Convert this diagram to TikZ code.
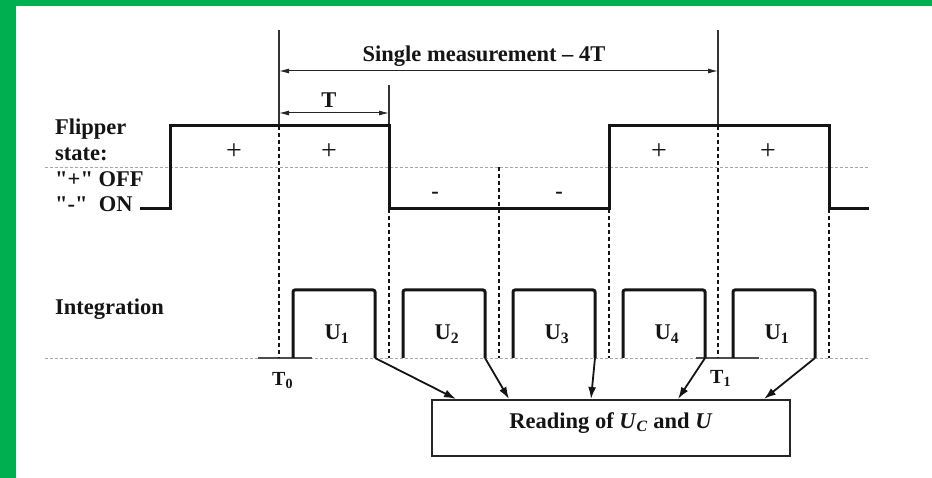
\documentclass[tikz,border=0pt]{standalone}
\usepackage{fontspec}
\setmainfont{Liberation Serif}
\newfontfamily\rawserif{Liberation Serif}
\usetikzlibrary{arrows.meta,calc}
\definecolor{frame}{RGB}{0,176,80}
\definecolor{ink}{RGB}{20,20,20}
\begin{document}
\begin{tikzpicture}[x=1pt,y=-1pt,
  lbl/.style={font=\fontsize{22.5}{26}\selectfont\bfseries, inner sep=0pt, text=ink},
  raw/.style={font=\rawserif\fontsize{22.5}{26}\selectfont\bfseries, inner sep=0pt, text=ink},
  sml/.style={font=\fontsize{20}{24}\selectfont\bfseries, inner sep=0pt, text=ink},
  sign/.style={font=\fontsize{28}{30}\selectfont, inner sep=0pt, text=ink},
  wave/.style={line width=3pt, ink, line join=miter},
  pulse/.style={line width=3pt, ink, rounded corners=2pt},
  guide/.style={line width=1.3pt, ink, dash pattern=on 4pt off 3pt},
  base/.style={line width=0.9pt, gray!70, dash pattern=on 3pt off 2pt},
  marker/.style={line width=1.4pt, gray!40!black},
  seg/.style={line width=1.6pt, gray!60!black},
  dim/.style={line width=1pt, gray!30!black, {Latex[length=10pt,width=5pt]}-{Latex[length=10pt,width=5pt]}},
  feed/.style={line width=1.8pt, ink, -{Latex[length=12pt,width=8pt]}},
  boxstyle/.style={draw=gray!30!black, line width=1.5pt, minimum width=358pt, minimum height=56pt, inner sep=0pt},
]
\useasboundingbox (0,0) rectangle (932,478);
\fill[frame] (0,0) rectangle (16,478);
\fill[frame] (0,0) rectangle (932,6);

% reference horizontal dashed lines
\coordinate (midL) at (45,167);
\coordinate (midR) at (869,167);
\coordinate (baseL) at (45,358);
\coordinate (baseR) at (869,358);
\draw[base] (midL) -- (midR);
\draw[base] (baseL) -- (baseR);
\coordinate (s0a) at (258,358); \coordinate (s0b) at (312,358);
\coordinate (s1a) at (696,358); \coordinate (s1b) at (759,358);
\draw[seg] (s0a) -- (s0b);
\draw[seg] (s1a) -- (s1b);

% left labels
\node[lbl, anchor=base west] (flip) at (55,135) {Flipper};
\node[lbl, anchor=base west] (state) at (55,161) {state:};
\node[raw, anchor=base west] (off) at (55,187) {"+" OFF};
\node[raw, anchor=base west] (on) at (55,212) {"-"~ ON};
\node[lbl, anchor=base west] (integ) at (55,315) {Integration};

% solid marker lines
\coordinate (a0) at (279,30);  \coordinate (a1) at (279,126);
\coordinate (b0) at (389,85);  \coordinate (b1) at (389,126);
\coordinate (c0) at (718,30);  \coordinate (c1) at (718,126);
\draw[marker] (a0) -- (a1);
\draw[marker] (b0) -- (b1);
\draw[marker] (c0) -- (c1);

% dimension arrows
\coordinate (m0) at (279,71); \coordinate (m1) at (718,71);
\draw[dim] (m0) -- (m1);
\node[lbl, anchor=base] (title) at (484,62) {Single measurement – 4T};
\coordinate (t0) at (279,113); \coordinate (t1) at (389,113);
\draw[dim] (t0) -- (t1);
\node[lbl, anchor=base] (tlabel) at (329,108) {T};

% flipper waveform
\coordinate (w0) at (140,209);
\coordinate (w1) at (170,209);
\coordinate (w2) at (170,126);
\coordinate (w3) at (389,126);
\coordinate (w4) at (389,209);
\coordinate (w5) at (609,209);
\coordinate (w6) at (609,126);
\coordinate (w7) at (829,126);
\coordinate (w8) at (829,209);
\coordinate (w9) at (869,209);
\draw[wave] (w0) -- (w1) -- (w2) -- (w3) -- (w4) -- (w5) -- (w6) -- (w7) -- (w8) -- (w9);

% signs
\node[sign] (p1) at (234,152) {+};
\node[sign] (p2) at (329,152) {+};
\node[sign] (p3) at (659,152) {+};
\node[sign] (p4) at (768,152) {+};
\node[lbl] (n1) at (435,195) {-};
\node[lbl] (n2) at (559,195) {-};

% dotted guides
\coordinate (g1a) at (279,126); \coordinate (g1b) at (279,358);
\coordinate (g2a) at (389,209); \coordinate (g2b) at (389,358);
\coordinate (g3a) at (499,167); \coordinate (g3b) at (499,358);
\coordinate (g4a) at (609,209); \coordinate (g4b) at (609,358);
\coordinate (g5a) at (718,126); \coordinate (g5b) at (718,358);
\coordinate (g6a) at (829,209); \coordinate (g6b) at (829,358);
\foreach \i in {1,...,6} { \draw[guide] (g\i a) -- (g\i b); }

% result box
\node[boxstyle, anchor=north west] (box) at (431,399) {};
\node[lbl, anchor=base] (boxtext) at (611,428) {Reading of \textit{U}\textsubscript{\textit{C}} and \textit{U}};

% integration pulses
\foreach \d/\lab/\tx [count=\k] in {279/1/456, 389/2/509, 499/3/591, 609/4/678, 719/1/764} {
  \coordinate (r\k) at (\d+14,358);
  \coordinate (rt\k) at (\d+14,290);
  \coordinate (ft\k) at (\d+96,290);
  \coordinate (f\k) at (\d+96,358);
  \draw[pulse] (r\k) -- (rt\k) -- (ft\k) -- (f\k);
  \node[lbl, anchor=base] (u\k) at (\d+58,340) {U\textsubscript{\lab}};
  \coordinate (e\k) at (\tx,399);
  \draw[feed] (f\k) -- (e\k);
}

% time labels
\node[sml, anchor=base west] (T0) at (272,385) {T\textsubscript{0}};
\node[sml, anchor=base west] (T1) at (710,383) {T\textsubscript{1}};
\end{tikzpicture}
\end{document}
